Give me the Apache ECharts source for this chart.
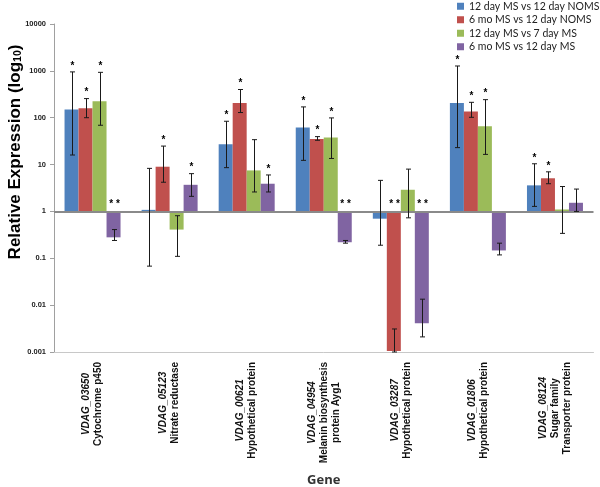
<!DOCTYPE html>
<html><head><meta charset="utf-8">
<script src="https://cdn.jsdelivr.net/npm/echarts@6/dist/echarts.min.js"></script>
<style>html,body{margin:0;padding:0;background:#fff}#c{width:600px;height:487px}</style>
</head><body><div id="c"></div>
<script>
// ---- data ----
const geneIds = ['VDAG_03650','VDAG_05123','VDAG_00621','VDAG_04954','VDAG_03287','VDAG_01806','VDAG_08124'];
const geneNames = ['Cytochrome p450','Nitrate reductase','Hypothetical protein','Melanin biosynthesis\nprotein Ayg1','Hypothetical protein','Hypothetical protein','Sugar family\nTransporter protein'];
const seriesNames = ['12 day MS vs 12 day NOMS','6 mo MS vs 12 day NOMS','12 day MS vs 7 day MS','6 mo MS vs 12 day MS'];
const colors = ['#4F81BD','#C0504D','#9BBB59','#8064A2'];

const valMS12vsNOMS12 = [150, 1.08, 27, 62, 0.70, 206, 3.6];
const valMO6vsNOMS12  = [160, 9.0, 206, 35, 0.00105, 135, 5.1];
const valMS12vsMS7    = [225, 0.41, 7.5, 38, 2.9, 66, 1.1];
const valMO6vsMS12    = [0.28, 3.7, 3.9, 0.22, 0.0041, 0.147, 1.53];

const errLoMS12vsNOMS12 = [16, 0.068, 8.6, 12.3, 0.19, 23, 1.28];
const errHiMS12vsNOMS12 = [950, 8.3, 84, 170, 4.6, 1270, 10.4];
const errLoMO6vsNOMS12  = [100, 4.2, 129, 33, 0.001, 102, 3.9];
const errHiMO6vsNOMS12  = [256, 24.8, 400, 39.5, 0.0031, 213, 7.0];
const errLoMS12vsMS7    = [69, 0.11, 2.6, 13.5, 0.73, 16.5, 0.34];
const errHiMS12vsMS7    = [930, 0.81, 34, 99, 8.0, 243, 3.4];
const errLoMO6vsMS12    = [0.24, 2.1, 2.6, 0.21, 0.0021, 0.118, 1.0];
const errHiMO6vsMS12    = [0.41, 6.4, 6.0, 0.24, 0.0134, 0.21, 3.0];

const starMS12vsNOMS12 = ['*','','*','*','','*','*'];
const starMO6vsNOMS12  = ['*','*','*','*','**','*','*'];
const starMS12vsMS7    = ['*','','','*','','*',''];
const starMO6vsMS12    = ['**','*','*','**','**','',''];

const yTickLabels = ['0.001','0.01','0.1','1','10','100','1000','10000'];

// ---- build ----
const valueSets = [valMS12vsNOMS12, valMO6vsNOMS12, valMS12vsMS7, valMO6vsMS12];
const lowSets = [errLoMS12vsNOMS12, errLoMO6vsNOMS12, errLoMS12vsMS7, errLoMO6vsMS12];
const highSets = [errHiMS12vsNOMS12, errHiMO6vsNOMS12, errHiMS12vsMS7, errHiMO6vsMS12];
const starSets = [starMS12vsNOMS12, starMO6vsNOMS12, starMS12vsMS7, starMO6vsMS12];
const L = v => Math.log10(v);
const yMin = Math.round(L(parseFloat(yTickLabels[0])));
const yMax = Math.round(L(parseFloat(yTickLabels[yTickLabels.length - 1])));
const BAR_W = 14;

const categories = geneIds.map((id, i) => id + '|' + geneNames[i]);

function errRenderer(si) {
  return function (params, api) {
    const cat = api.value(0);
    const base = api.coord([cat, 0]);
    const x = Math.round(base[0] + (si - 1.5) * BAR_W) + 0.5;
    const yLo = api.coord([cat, api.value(1)])[1];
    const yHi = api.coord([cat, api.value(2)])[1];
    const v = api.value(3);
    const st = { stroke: '#1a1a1a', lineWidth: 1 };
    const children = [
      { type: 'line', shape: { x1: x, y1: yLo, x2: x, y2: yHi }, style: st },
      { type: 'line', shape: { x1: x - 2.5, y1: yLo, x2: x + 2.5, y2: yLo }, style: st },
      { type: 'line', shape: { x1: x - 2.5, y1: yHi, x2: x + 2.5, y2: yHi }, style: st }
    ];
    const star = starSets[si][params.dataIndex];
    if (star) {
      const y = v >= 0 ? yHi - 1 : base[1] - 2;
      children.push({ type: 'text', style: {
        text: star === '**' ? '* *' : star, x: x, y: y, align: 'center', verticalAlign: 'bottom',
        fontSize: 10, fontWeight: 'bold', fontFamily: 'Liberation Sans', fill: '#000' } });
    }
    return { type: 'group', children: children };
  };
}

const series = [];
valueSets.forEach((vals, si) => {
  const s = {
    type: 'bar', name: seriesNames[si], data: vals.map(L), barWidth: BAR_W, barGap: '0%',
    itemStyle: { color: colors[si] }, z: 2
  };
  if (si === 0) {
    s.markLine = { silent: true, symbol: ['none', 'none'], label: { show: false },
      lineStyle: { color: '#8a8a8a', width: 2, type: 'solid' }, data: [{ yAxis: 0 }], z: 3 };
  }
  series.push(s);
});
valueSets.forEach((vals, si) => {
  series.push({
    type: 'custom', name: seriesNames[si] + ' error', z: 5,
    data: vals.map((v, i) => [i, L(lowSets[si][i]), L(highSets[si][i]), L(v)]),
    renderItem: errRenderer(si)
  });
});

const chart = echarts.init(document.getElementById('c'));
chart.setOption({
  animation: false,
  backgroundColor: '#fff',
  color: colors,
  legend: {
    data: seriesNames, orient: 'vertical', left: 455, top: -2, padding: 2,
    icon: 'rect', itemWidth: 7, itemHeight: 7, itemGap: 1,
    textStyle: { fontFamily: 'Lato', fontSize: 10.5, lineHeight: 12.5, color: '#222' }
  },
  grid: { left: 54, right: 6.5, top: 24, bottom: 135, containLabel: false, outerBoundsMode: 'none' },
  xAxis: {
    type: 'category', data: categories,
    axisLine: { show: true, onZero: false, lineStyle: { color: '#c8c8c8', width: 1 } },
    axisTick: { show: false },
    axisLabel: {
      rotate: 90, margin: 10, interval: 0,
      formatter: function (val) {
        const parts = val.split('|');
        const lines = ['{i|' + parts[0] + '}'];
        parts[1].split('\n').forEach(t => lines.push('{n|' + t + '}'));
        return lines.join('\n');
      },
      rich: {
        i: { fontFamily: 'Liberation Sans', fontStyle: 'italic', fontWeight: 'bold', fontSize: 10, color: '#111', align: 'center', lineHeight: 12 },
        n: { fontFamily: 'Liberation Sans', fontWeight: 'bold', fontSize: 10, color: '#111', align: 'center', lineHeight: 12 }
      }
    },
    name: 'Gene', nameLocation: 'middle', nameGap: 122, nameMoveOverlap: false,
    nameTextStyle: { fontFamily: 'Open Sans', fontWeight: 'bold', fontSize: 13, color: '#333' }
  },
  yAxis: {
    type: 'value', min: yMin, max: yMax, interval: 1,
    axisLine: { show: true, lineStyle: { color: '#a0a0a0' } },
    axisTick: { show: true, length: 4, lineStyle: { color: '#a0a0a0' } },
    splitLine: { show: false },
    axisLabel: {
      formatter: v => yTickLabels[Math.round(v - yMin)],
      fontFamily: 'Liberation Sans', fontWeight: 'bold', fontSize: 7.5, color: '#222', margin: 8
    },
    name: '{a|Relative Expression (log}{s|10}{a|)}', nameLocation: 'middle', nameGap: 30, nameMoveOverlap: false,
    nameTextStyle: {
      padding: [0, 0, 0, 72],
      rich: {
        a: { fontFamily: 'Liberation Sans', fontWeight: 'bold', fontSize: 17, color: '#000' },
        s: { fontFamily: 'Liberation Sans', fontWeight: 'bold', fontSize: 10.5, color: '#000', padding: [7, 0, 0, 0] }
      }
    }
  },
  series: series
});
</script>
</body></html>
